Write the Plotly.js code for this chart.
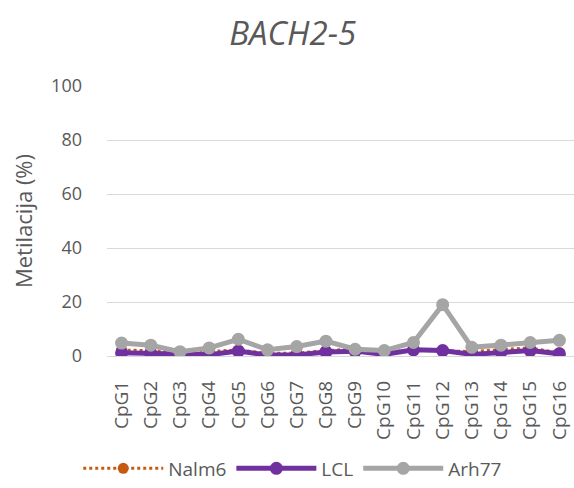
<!DOCTYPE html>
<html>
<head>
<meta charset="utf-8">
<script src="https://cdn.plot.ly/plotly-3.0.1.min.js"></script>
<style>html,body{margin:0;padding:0;background:#fff}#c{width:574px;height:488px}</style>
</head>
<body>
<div id="c"></div>
<script>
const categories = ["CpG1","CpG2","CpG3","CpG4","CpG5","CpG6","CpG7","CpG8","CpG9","CpG10","CpG11","CpG12","CpG13","CpG14","CpG15","CpG16"];
const nalm6 = [2.2, 2.0, 1.2, 1.6, 2.2, 1.0, 1.0, 2.0, 2.6, 1.6, 2.0, 2.0, 1.6, 2.4, 3.0, 1.2];
const lcl   = [1.2, 1.0, 0.7, 0.5, 1.8, 0.4, 0.4, 1.5, 1.8, 0.6, 2.3, 2.0, 0.6, 1.5, 2.0, 0.8];
const arh77 = [4.8, 4.0, 1.6, 3.0, 6.2, 2.3, 3.5, 5.5, 2.5, 2.0, 5.0, 19.0, 3.2, 4.0, 5.0, 5.8];
const yTicks = [0, 20, 40, 60, 80, 100];

const txt = '#595959';
const font = '"Open Sans", sans-serif';

const traces = [
  {x: categories, y: nalm6, name: 'Nalm6', type: 'scatter', mode: 'lines+markers',
   line: {color: '#c55a11', width: 3, dash: 'dot'}, marker: {color: '#c55a11', size: 11}},
  {x: categories, y: lcl, name: 'LCL', type: 'scatter', mode: 'lines+markers',
   line: {color: '#7030a0', width: 5}, marker: {color: '#7030a0', size: 13}},
  {x: categories, y: arh77, name: 'Arh77', type: 'scatter', mode: 'lines+markers',
   line: {color: '#a5a5a5', width: 5}, marker: {color: '#a5a5a5', size: 13}}
];

const layout = {
  width: 574, height: 488,
  margin: {l: 107, r: 0, t: 86, b: 132},
  paper_bgcolor: '#fff', plot_bgcolor: '#fff',
  font: {family: font, color: txt, size: 18},
  title: {text: '<i>BACH2-5</i>', font: {family: font, size: 33, color: txt},
          x: 0.51, xref: 'container', y: 0.932, yref: 'container', yanchor: 'middle'},
  xaxis: {type: 'category', range: [-0.5, 15.5], showgrid: false, showline: false, zeroline: false,
          ticks: '', tickangle: -90, ticklabelstandoff: 20, tickfont: {size: 19, color: txt}, fixedrange: true},
  yaxis: {range: [0, 100], tickvals: yTicks, ticktext: yTicks.map(String),
          showgrid: true, gridcolor: '#d9d9d9', gridwidth: 1, zeroline: true, zerolinecolor: '#d9d9d9',
          showline: false, ticks: '', ticklabelstandoff: 24, tickfont: {size: 18, color: txt},
          title: {text: 'Metilacija (%)', font: {size: 22, color: txt}, standoff: 12}},
  showlegend: true,
  legend: {orientation: 'h', xref: 'container', x: 0.51, xanchor: 'center', yref: 'container', y: 0.04, yanchor: 'middle',
           font: {size: 19, color: txt}, itemwidth: 80, tracegroupgap: 0},
};

Plotly.newPlot('c', traces, layout, {displayModeBar: false, staticPlot: true});
</script>
</body>
</html>
